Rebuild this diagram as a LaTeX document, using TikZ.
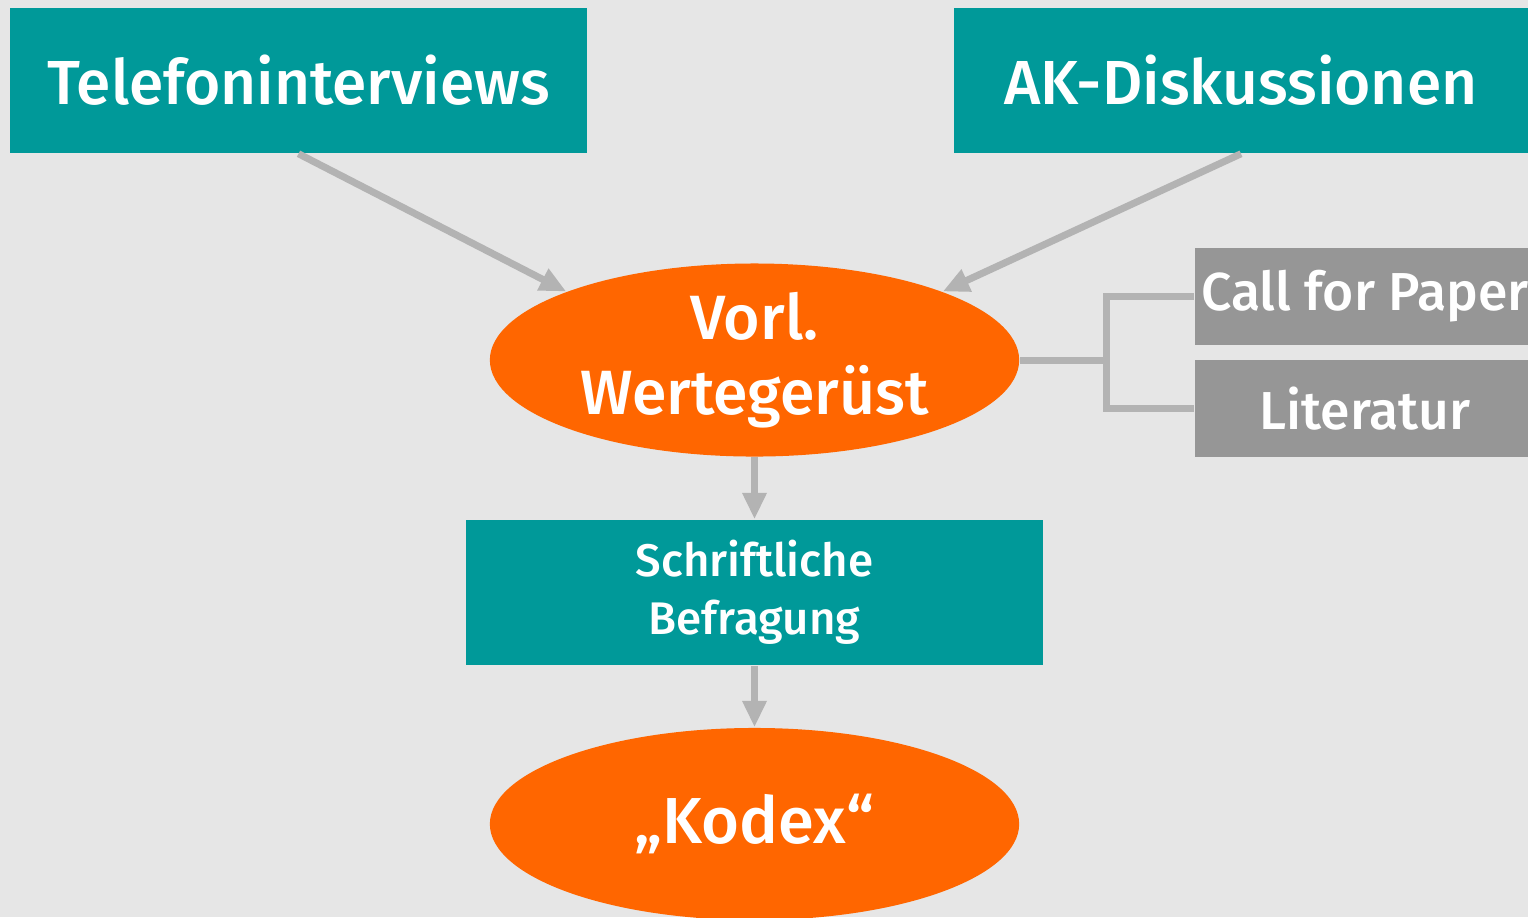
\documentclass[tikz,border=0pt]{standalone}
\usepackage{fontspec}
\setmainfont{Fira Sans}[BoldFont={Fira Sans Medium}]
\usepackage{xcolor}
\usepackage{tikz}
\usetikzlibrary{shapes,arrows.meta,positioning,calc}

\definecolor{teal}{RGB}{0,153,153}
\definecolor{orangeB}{RGB}{255,102,0}
\definecolor{greyBox}{RGB}{150,150,150}
\definecolor{greyLine}{RGB}{179,179,179}
\definecolor{bgGrey}{RGB}{230,230,230}

\tikzset{
    tealbox/.style={rectangle, fill=teal, text=white, inner sep=0pt, align=center,
        minimum width=5.77cm, minimum height=1.45cm, font=\bfseries\fontsize{17.7}{22}\selectfont},
    oval/.style={ellipse, fill=orangeB, text=white, inner sep=0pt, align=center,
        minimum width=5.29cm, minimum height=1.92cm, font=\bfseries\fontsize{17.8}{21.5}\selectfont},
    sidebox/.style={rectangle, fill=greyBox, text=white, inner sep=0pt,
        minimum width=3.40cm, minimum height=0.97cm, font=\bfseries\fontsize{15.2}{18}\selectfont},
    link/.style={draw=greyLine, line width=2pt},
    arr/.style={link, -{Triangle[length=7.5pt,width=6.5pt]}}
}

\begin{document}
\begin{tikzpicture}[x=0.01cm, y=-0.01cm]
    % Background
    \fill[bgGrey] (0,0) rectangle (1528,917);
    \useasboundingbox (0,0) rectangle (1528,917);

    % Top boxes
    \node[tealbox] (tel) at (298.5,80.5) {Telefoninterviews};
    \node[tealbox, minimum width=5.74cm] (ak) at (1241,80.5) {AK-Diskussionen};

    % Centre column
    \node[oval] (vorl) at (754.5,360) {Vorl.\\Wertegerüst};
    \node[tealbox, font=\bfseries\fontsize{13}{16.5}\selectfont] (befr) at (754.5,592.5) {Schriftliche\\Befragung};
    \node[oval, font=\bfseries\fontsize{18.5}{21.5}\selectfont] (kodex) at (754.5,824) {„Kodex“};

    % Side sources
    \node[sidebox] (cfp) at (1365,296.5) {Call for Paper};
    \node[sidebox] (lit) at (1365,408.5) {Literatur};

    % Arrows
    \draw[arr] (tel.south) -- (vorl.160);
    \draw[arr] (ak.south) -- (vorl.20);
    \draw[arr] (vorl.south) -- (befr.north);
    \draw[arr] (befr.south) -- (kodex.north);

    % Bracket to the side sources
    \coordinate (brk) at (1106,360);
    \draw[link] (vorl.east) -- (brk);
    \draw[link] (cfp.west) -| (brk) |- (lit.west);
\end{tikzpicture}
\end{document}
